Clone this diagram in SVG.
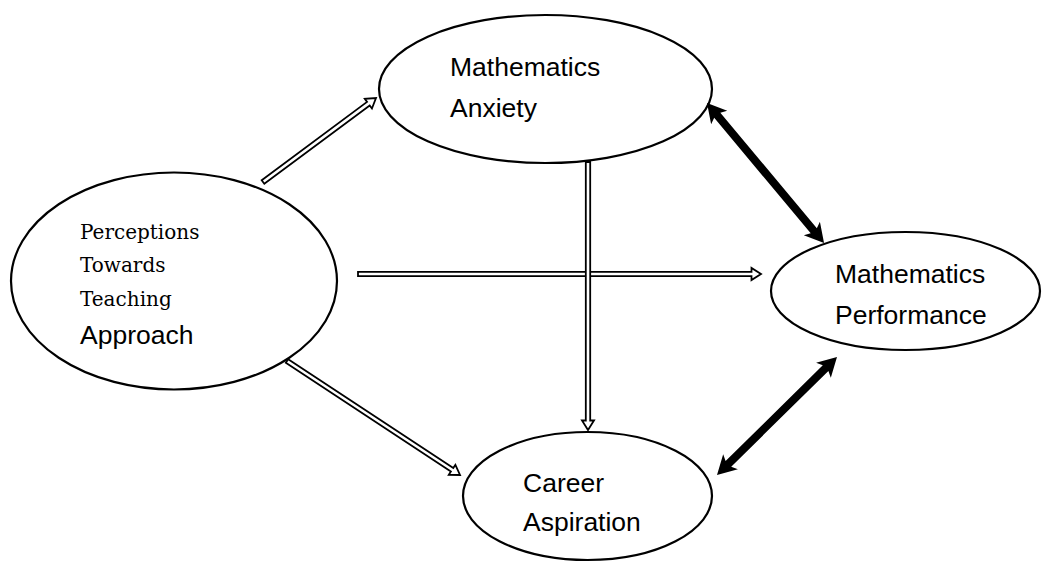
<svg xmlns="http://www.w3.org/2000/svg" width="1043" height="562" viewBox="0 0 1043 562">
<style>
.node{fill:#fff;stroke:#000;stroke-width:2.2}
.sans{font-family:"Liberation Sans",Arial,sans-serif;font-size:26.5px;fill:#000}
.serif{font-family:"DejaVu Serif","Liberation Serif",serif;font-size:20px;fill:#000}
.dbl{fill:#fff;stroke:#000;stroke-width:1.8;stroke-linejoin:miter}
.thick{fill:#000;stroke:none}
</style>
<rect width="1043" height="562" fill="#fff"/>
<g id="node-perceptions">
<ellipse class="node" cx="174" cy="281" rx="163" ry="108.5"/>
<text class="serif" x="80" y="239">Perceptions</text>
<text class="serif" x="80" y="272">Towards</text>
<text class="serif" x="80" y="306">Teaching</text>
<text class="sans" x="80" y="344">Approach</text>
</g>
<g id="node-anxiety">
<ellipse class="node" cx="545.5" cy="89" rx="166.5" ry="74"/>
<text class="sans" x="450" y="76">Mathematics</text>
<text class="sans" x="450" y="117">Anxiety</text>
</g>
<g id="node-performance">
<ellipse class="node" cx="905.5" cy="291" rx="134.5" ry="59"/>
<text class="sans" x="835" y="283">Mathematics</text>
<text class="sans" x="835" y="324">Performance</text>
</g>
<g id="node-career">
<ellipse class="node" cx="587.5" cy="496" rx="124.5" ry="64"/>
<text class="sans" x="523" y="492">Career</text>
<text class="sans" x="523" y="531">Aspiration</text>
</g>
<g id="connectors">
<polygon class="dbl" transform="translate(263,182) rotate(-36.63)" points="0,-2.2 131.3,-2.2 131.3,-6 140.8,0 131.3,6 131.3,2.2 0,2.2"/>
<polygon class="dbl" transform="translate(358,274)" points="0,-2.2 393.5,-2.2 393.5,-6 403,0 393.5,6 393.5,2.2 0,2.2"/>
<polygon class="dbl" transform="translate(588,162) rotate(90)" points="0,-2.2 258.5,-2.2 258.5,-6 268,0 258.5,6 258.5,2.2 0,2.2"/>
<polygon class="dbl" transform="translate(287,361) rotate(33.38)" points="0,-2.2 197.7,-2.2 197.7,-6 207.2,0 197.7,6 197.7,2.2 0,2.2"/>
<polygon class="thick" transform="translate(707,103) rotate(50.11)" points="0,0 19,-10.5 16,-4 166.5,-4 163.5,-10.5 182.5,0 163.5,10.5 166.5,4 16,4 19,10.5"/>
<polygon class="thick" transform="translate(717,475) rotate(-44.52)" points="0,0 19,-10.5 16,-4 152.3,-4 149.3,-10.5 168.3,0 149.3,10.5 152.3,4 16,4 19,10.5"/>
</g>
</svg>
